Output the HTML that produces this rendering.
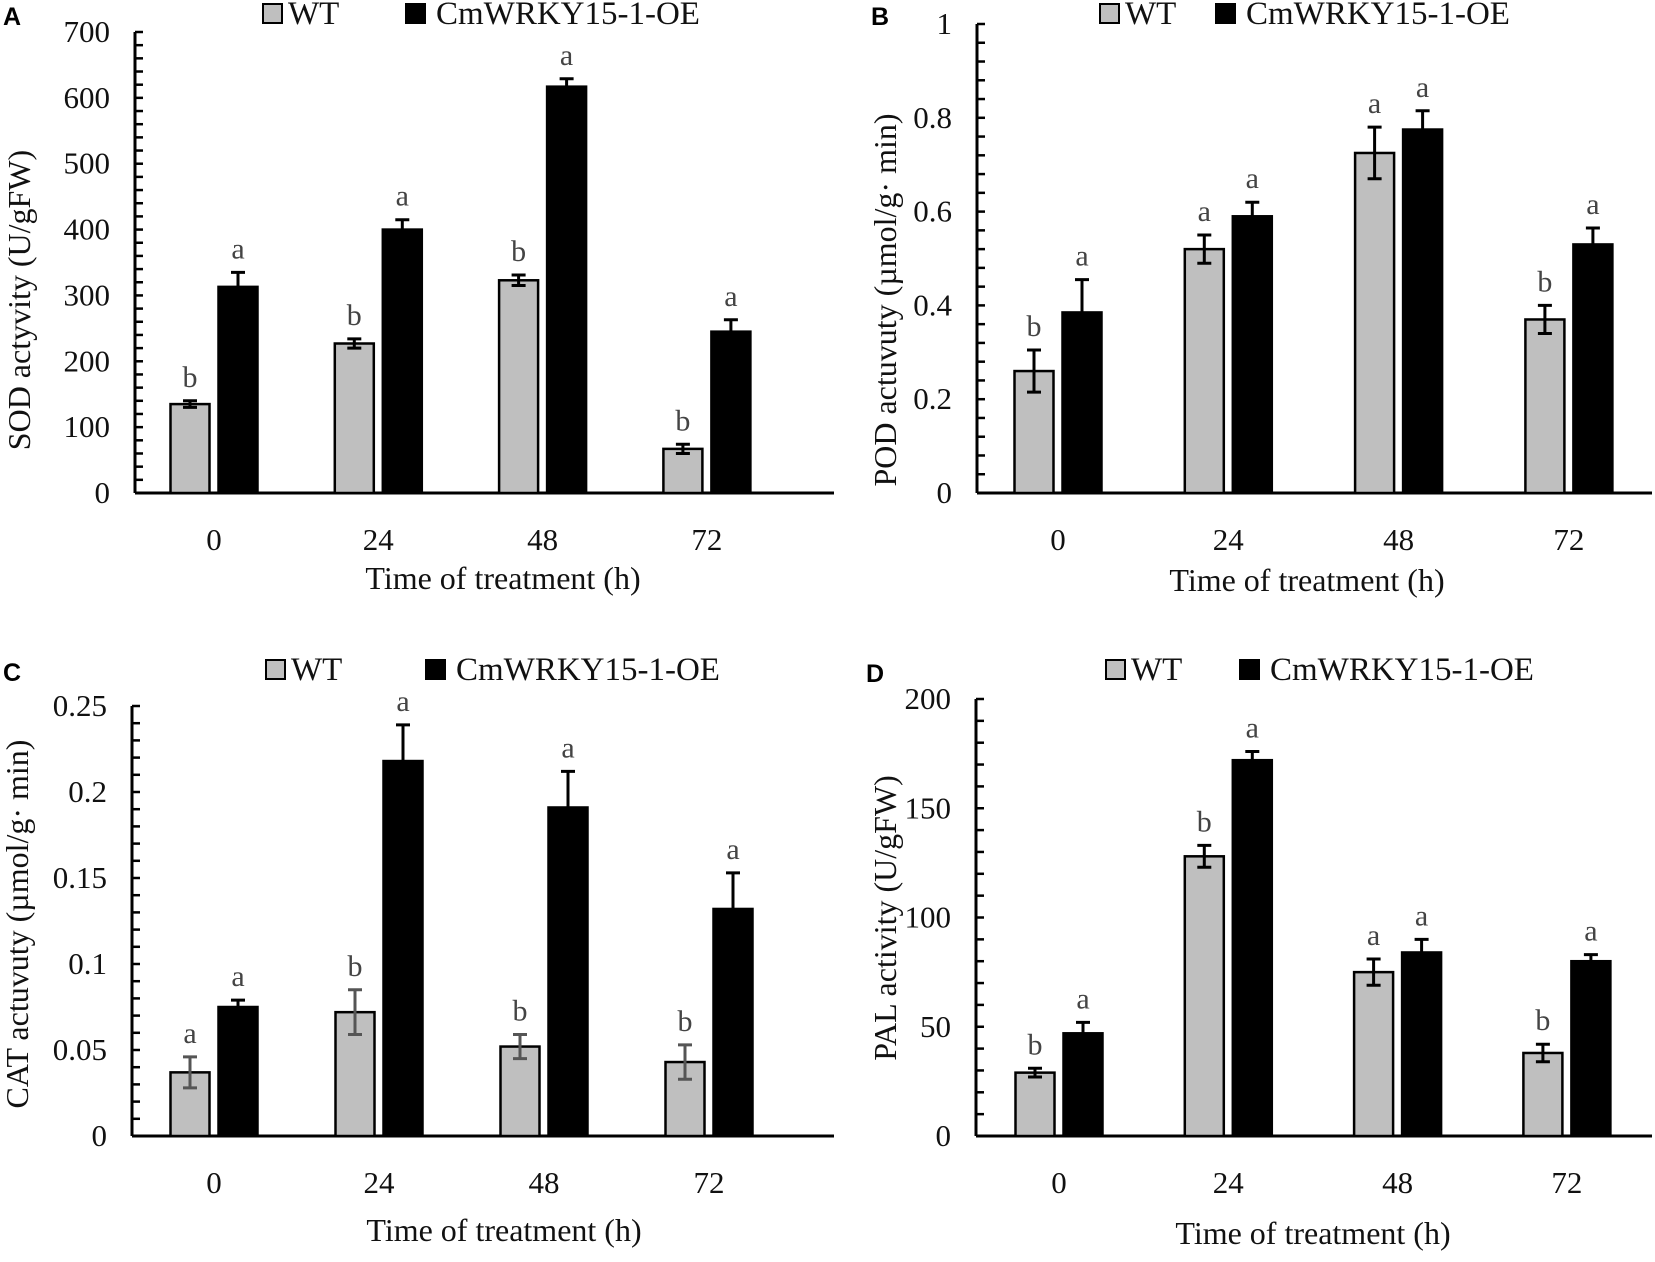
<!DOCTYPE html>
<html><head><meta charset="utf-8"><style>
html,body{margin:0;padding:0;background:#fff;}
svg text{font-family:"Liberation Serif",serif;}
</style></head><body>
<svg id="fig" width="1655" height="1257" viewBox="0 0 1655 1257" xmlns="http://www.w3.org/2000/svg"></svg>
<script>
const categories = ["0","24","48","72"];
const aWT = [135,227,323,67], aWTerr=[5,7,8,7], aOE=[313,400,617,245], aOEerr=[22,15,12,18];
const aWTlet=["b","b","b","b"], aOElet=["a","a","a","a"];
const aTicks=["0","100","200","300","400","500","600","700"];
const bWT=[0.26,0.52,0.725,0.37], bWTerr=[0.045,0.03,0.055,0.03], bOE=[0.385,0.59,0.775,0.53], bOEerr=[0.07,0.03,0.04,0.035];
const bWTlet=["b","a","a","b"], bOElet=["a","a","a","a"];
const bTicks=["0","0.2","0.4","0.6","0.8","1"];
const cWT=[0.037,0.072,0.052,0.043], cWTerr=[0.009,0.013,0.007,0.01], cOE=[0.075,0.218,0.191,0.132], cOEerr=[0.004,0.021,0.021,0.021];
const cWTlet=["a","b","b","b"], cOElet=["a","a","a","a"];
const cTicks=["0","0.05","0.1","0.15","0.2","0.25"];
const dWT=[29,128,75,38], dWTerr=[2,5,6,4], dOE=[47,172,84,80], dOEerr=[5,4,6,3];
const dWTlet=["b","b","a","b"], dOElet=["a","a","a","a"];
const dTicks=["0","50","100","150","200"];

const NS="http://www.w3.org/2000/svg";
const svg=document.getElementById('fig');
function mk(tag,attrs,parent,text){const e=document.createElementNS(NS,tag);for(const k in attrs)e.setAttribute(k,attrs[k]);if(text!==undefined)e.textContent=text;(parent||svg).appendChild(e);return e;}

function panel(o){
  const g=mk('g',{});
  
  
  const y=v=>o.y0-(v/o.max)*(o.y0-o.ytop);
  const x=i=>o.cx1+i*o.step;
  const ya=mk('line',{x1:o.x0,y1:o.ytop,x2:o.x0,y2:o.y0,stroke:'#000','stroke-width':3},g);
  
  const xa=mk('line',{x1:o.x0,y1:o.y0,x2:o.xend,y2:o.y0,stroke:'#000','stroke-width':3},g);
  
  const n=Math.round(o.max/o.minor);
  for(let k=0;k<=n;k++){const yy=y(k*o.minor);mk('line',{x1:o.x0,y1:yy,x2:o.x0+8,y2:yy,stroke:'#000','stroke-width':2.5},g);}
  o.ticks.forEach(t=>{const tt=mk('text',{x:o.x0-25,y:y(parseFloat(t))+10,'text-anchor':'end','font-size':31,fill:'#111'},g,t);
    });
  categories.forEach((c,i)=>{const tt=mk('text',{x:x(i),y:o.y0+57,'text-anchor':'middle','font-size':31,fill:'#111'},g,c);
    });
  const bw=39, gap=9;
  function series(vals,errs,lets,fill,dx,nm,ec){
    vals.forEach((v,i)=>{
      const bx=x(i)+dx, top=y(v);
      const r=mk('rect',{x:bx,y:top,width:bw,height:o.y0-top,fill:fill,stroke:'#000','stroke-width':2.5},g);
      
      const cx=bx+bw/2, e1=y(v+errs[i]), e2=y(v-errs[i]);
      const el=mk('path',{d:`M${cx} ${e1}V${e2}M${cx-7} ${e1}H${cx+7}M${cx-7} ${e2}H${cx+7}`,stroke:ec,'stroke-width':3,fill:'none'},g);
      
      const lt=mk('text',{x:cx,y:e1-14,'text-anchor':'middle','font-size':30,fill:'#444'},g,lets[i]);
      
    });
  }
  series(o.wt,o.wtErr,o.wtLet,'#bfbfbf',-bw-gap/2,'wt',o.wtEc||'#000');
  series(o.oe,o.oeErr,o.oeLet,'#000',gap/2,'oe','#000');
  const l1=mk('rect',{x:o.lg[0],y:o.lgy,width:19,height:19,fill:'#bfbfbf',stroke:'#000','stroke-width':2},g);
  
  const t1=mk('text',{x:o.lg[0]+25,y:o.lgy+20,'font-size':33,fill:'#111'},g,'WT');
  
  const l2=mk('rect',{x:o.lg[1],y:o.lgy,width:19,height:19,fill:'#000',stroke:'#000','stroke-width':2},g);
  
  const t2=mk('text',{x:o.lg[1]+30,y:o.lgy+20,'font-size':33,fill:'#111'},g,'CmWRKY15-1-OE');
  
  const pl=mk('text',{x:o.lx,y:o.ly,'font-size':25,'font-weight':'bold',fill:'#000',style:'font-family:"Liberation Sans",sans-serif'},g,o.id);
  
  const yt=mk('text',{x:0,y:0,'text-anchor':'middle','font-size':32,fill:'#111',transform:`translate(${o.ytx},${o.yty}) rotate(-90)`},g,o.ytitle);
  
  const xt=mk('text',{x:o.xtx,y:o.xty,'text-anchor':'middle','font-size':32,fill:'#111'},g,'Time of treatment (h)');
  
}
panel({id:'A',x0:135,xend:834,y0:493,ytop:32,max:700,minor:20,cx1:214,step:164.3,ticks:aTicks,
  wt:aWT,wtErr:aWTerr,wtLet:aWTlet,oe:aOE,oeErr:aOEerr,oeLet:aOElet,lg:[263,406],lgy:4,lx:3,ly:25,
  ytitle:'SOD actyvity (U/gFW)',ytx:30,yty:300,xtx:503,xty:589});
panel({id:'B',x0:977,xend:1652,y0:493,ytop:24,max:1,minor:0.04,cx1:1058,step:170.3,ticks:bTicks,
  wt:bWT,wtErr:bWTerr,wtLet:bWTlet,oe:bOE,oeErr:bOEerr,oeLet:bOElet,lg:[1100,1216],lgy:4,lx:871,ly:25,
  ytitle:'POD actuvuty (µmol/g· min)',ytx:896,yty:300,xtx:1307,xty:591});
panel({id:'C',x0:132,xend:834,y0:1136,ytop:706,max:0.25,minor:0.01,cx1:214,step:165,ticks:cTicks,
  wt:cWT,wtErr:cWTerr,wtLet:cWTlet,oe:cOE,oeErr:cOEerr,oeLet:cOElet,lg:[266,426],lgy:660,lx:3,ly:681,wtEc:'#555',
  ytitle:'CAT actuvuty (µmol/g· min)',ytx:28,yty:924,xtx:504,xty:1241});
panel({id:'D',x0:976,xend:1652,y0:1136,ytop:699,max:200,minor:10,cx1:1059,step:169.3,ticks:dTicks,
  wt:dWT,wtErr:dWTerr,wtLet:dWTlet,oe:dOE,oeErr:dOEerr,oeLet:dOElet,lg:[1106,1240],lgy:660,lx:866,ly:682,
  ytitle:'PAL activity (U/gFW)',ytx:896,yty:918,xtx:1313,xty:1244});
</script>
</body></html>
